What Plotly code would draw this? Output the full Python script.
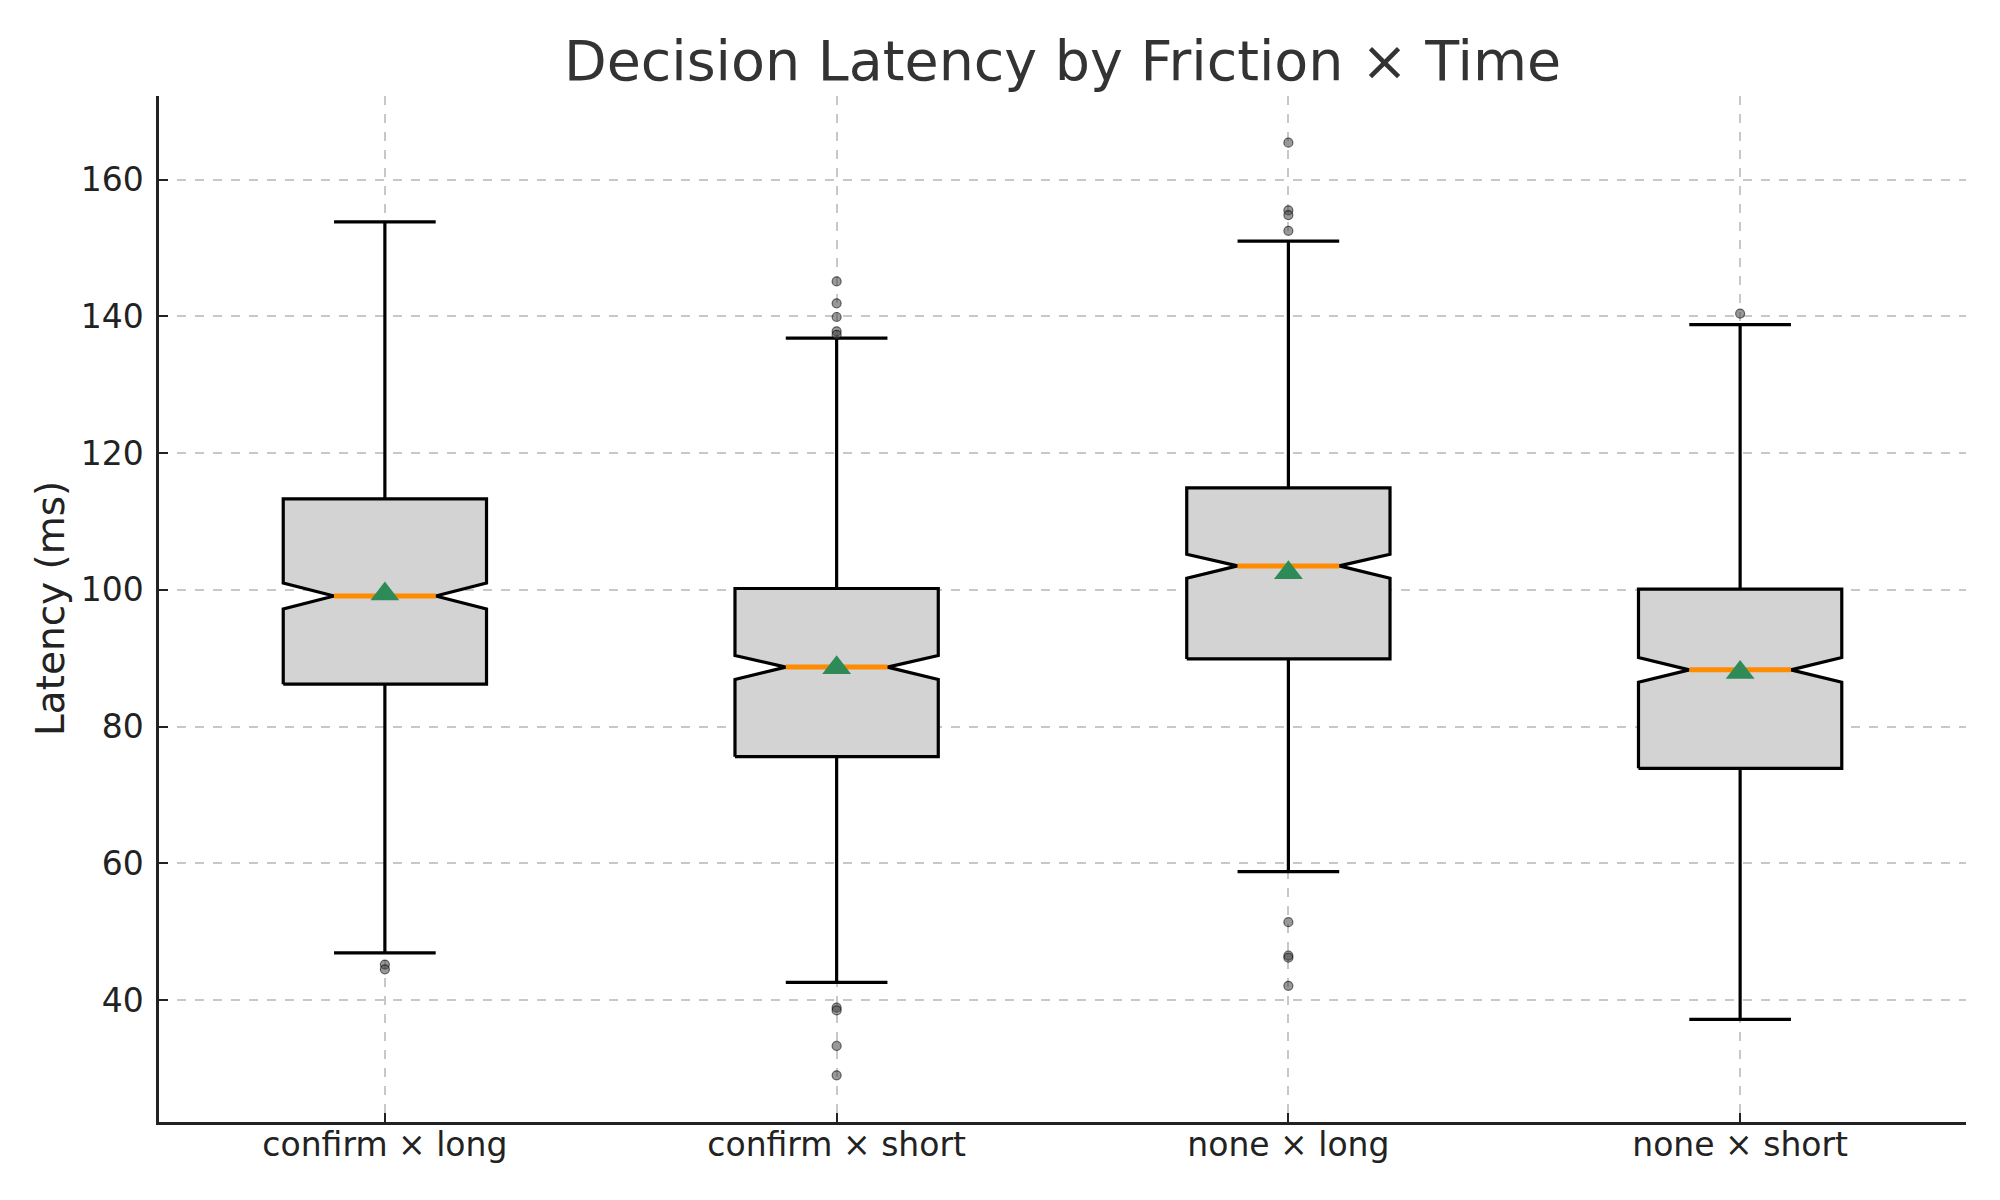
import plotly.graph_objects as go

# ---- data ----
categories = ["confirm × long", "confirm × short", "none × long", "none × short"]
positions = [1, 2, 3, 4]
q1 = [86.2, 75.6, 89.9, 73.9]
median = [99.1, 88.7, 103.5, 88.3]
q3 = [113.3, 100.2, 114.9, 100.1]
notch_lo = [97.2, 86.9, 101.7, 86.5]
notch_hi = [101.0, 90.4, 105.2, 90.1]
whisker_lo = [46.9, 42.6, 58.8, 37.2]
whisker_hi = [153.8, 136.8, 151.0, 138.8]
means = [99.4, 88.6, 102.5, 87.9]
outliers = [
    [45.2, 44.5],
    [145.1, 141.9, 139.9, 137.8, 137.3, 38.9, 38.5, 33.3, 29.0],
    [165.4, 155.5, 154.8, 152.5, 51.4, 46.5, 46.2, 42.1],
    [140.4],
]
yticks = [40, 60, 80, 100, 120, 140, 160]

# ---- style ----
BOX_W = 0.45
CAP_W = BOX_W * 0.5
NOTCH_W = BOX_W * 0.5
FONT = "DejaVu Sans"
LW = 3.2
ML, MR, MT, MB = 151, 42, 88, 86
PW = 2000 - ML - MR

fig = go.Figure()

# boxes (notched polygons)
for i, p in enumerate(positions):
    L, R = p - BOX_W / 2, p + BOX_W / 2
    nL, nR = p - NOTCH_W / 2, p + NOTCH_W / 2
    bx = [L, R, R, nR, R, R, L, L, nL, L, L]
    by = [q1[i], q1[i], notch_lo[i], median[i], notch_hi[i], q3[i], q3[i],
          notch_hi[i], median[i], notch_lo[i], q1[i]]
    fig.add_trace(go.Scatter(x=bx, y=by, mode="lines", fill="toself",
                             fillcolor="#d3d3d3",
                             line=dict(color="black", width=LW),
                             hoverinfo="skip", showlegend=False))

# whiskers
wx, wy = [], []
for i, p in enumerate(positions):
    wx += [p, p, None, p, p, None]
    wy += [q1[i], whisker_lo[i], None, q3[i], whisker_hi[i], None]
fig.add_trace(go.Scatter(x=wx, y=wy, mode="lines",
                         line=dict(color="black", width=LW),
                         hoverinfo="skip", showlegend=False))

# caps
cx, cy = [], []
for i, p in enumerate(positions):
    cx += [p - CAP_W / 2, p + CAP_W / 2, None, p - CAP_W / 2, p + CAP_W / 2, None]
    cy += [whisker_lo[i], whisker_lo[i], None, whisker_hi[i], whisker_hi[i], None]
fig.add_trace(go.Scatter(x=cx, y=cy, mode="lines",
                         line=dict(color="black", width=LW),
                         hoverinfo="skip", showlegend=False))

# medians
mx, my = [], []
for i, p in enumerate(positions):
    mx += [p - NOTCH_W / 2, p + NOTCH_W / 2, None]
    my += [median[i], median[i], None]
fig.add_trace(go.Scatter(x=mx, y=my, mode="lines",
                         line=dict(color="#ff8c00", width=5),
                         hoverinfo="skip", showlegend=False))

# outliers
ox, oy = [], []
for i, p in enumerate(positions):
    for v in outliers[i]:
        ox.append(p)
        oy.append(v)
fig.add_trace(go.Scatter(x=ox, y=oy, mode="markers",
                         marker=dict(symbol="circle", size=9,
                                     color="rgba(70,70,70,0.55)",
                                     line=dict(color="rgba(0,0,0,0.55)", width=1.2)),
                         hoverinfo="skip", showlegend=False))

# means
fig.add_trace(go.Scatter(x=positions, y=means, mode="markers",
                         marker=dict(symbol="triangle-up", size=25,
                                     color="#2e8b57",
                                     line=dict(width=0)),
                         hoverinfo="skip", showlegend=False))

all_vals = whisker_lo + whisker_hi + [v for o in outliers for v in o]
lo, hi = min(all_vals), max(all_vals)
pad = (hi - lo) * 0.05

fig.update_layout(
    width=2000, height=1200,
    margin=dict(l=ML, r=MR, t=MT, b=MB),
    paper_bgcolor="white", plot_bgcolor="white",
    font=dict(family=FONT, color="#222222"),
    title=dict(text="Decision Latency by Friction × Time",
               x=(ML + ML + PW) / 2 / 2000, xanchor="center",
               y=1 - 53 / 1200, yanchor="middle",
               font=dict(family=FONT, size=55.5, color="#333333")),
    xaxis=dict(range=[0.5, 4.5], tickmode="array", tickvals=positions,
               ticktext=categories, showgrid=True, gridcolor="#c8c8c8",
               griddash="dash", gridwidth=1.5, zeroline=False,
               showline=True, linecolor="#222222", linewidth=2.5,
               ticks="inside", ticklen=9, tickwidth=2, tickcolor="#222222",
               tickfont=dict(family=FONT, size=33, color="#222222"),
               ticklabelstandoff=-8),
    yaxis=dict(range=[lo - pad, hi + pad], tickmode="array", tickvals=yticks,
               showgrid=True, gridcolor="#c8c8c8", griddash="dash",
               gridwidth=1.5, zeroline=False,
               showline=True, linecolor="#222222", linewidth=2.5,
               ticks="inside", ticklen=9, tickwidth=2, tickcolor="#222222",
               tickfont=dict(family=FONT, size=33, color="#222222"),
               ticklabelstandoff=6),
    annotations=[dict(text="Latency (ms)", textangle=-90,
                      xref="paper", yref="paper",
                      x=(42 - ML) / PW, y=0.5,
                      xanchor="center", yanchor="middle", showarrow=False,
                      font=dict(family=FONT, size=39, color="#222222"))],
)

fig.write_html("out.html")
